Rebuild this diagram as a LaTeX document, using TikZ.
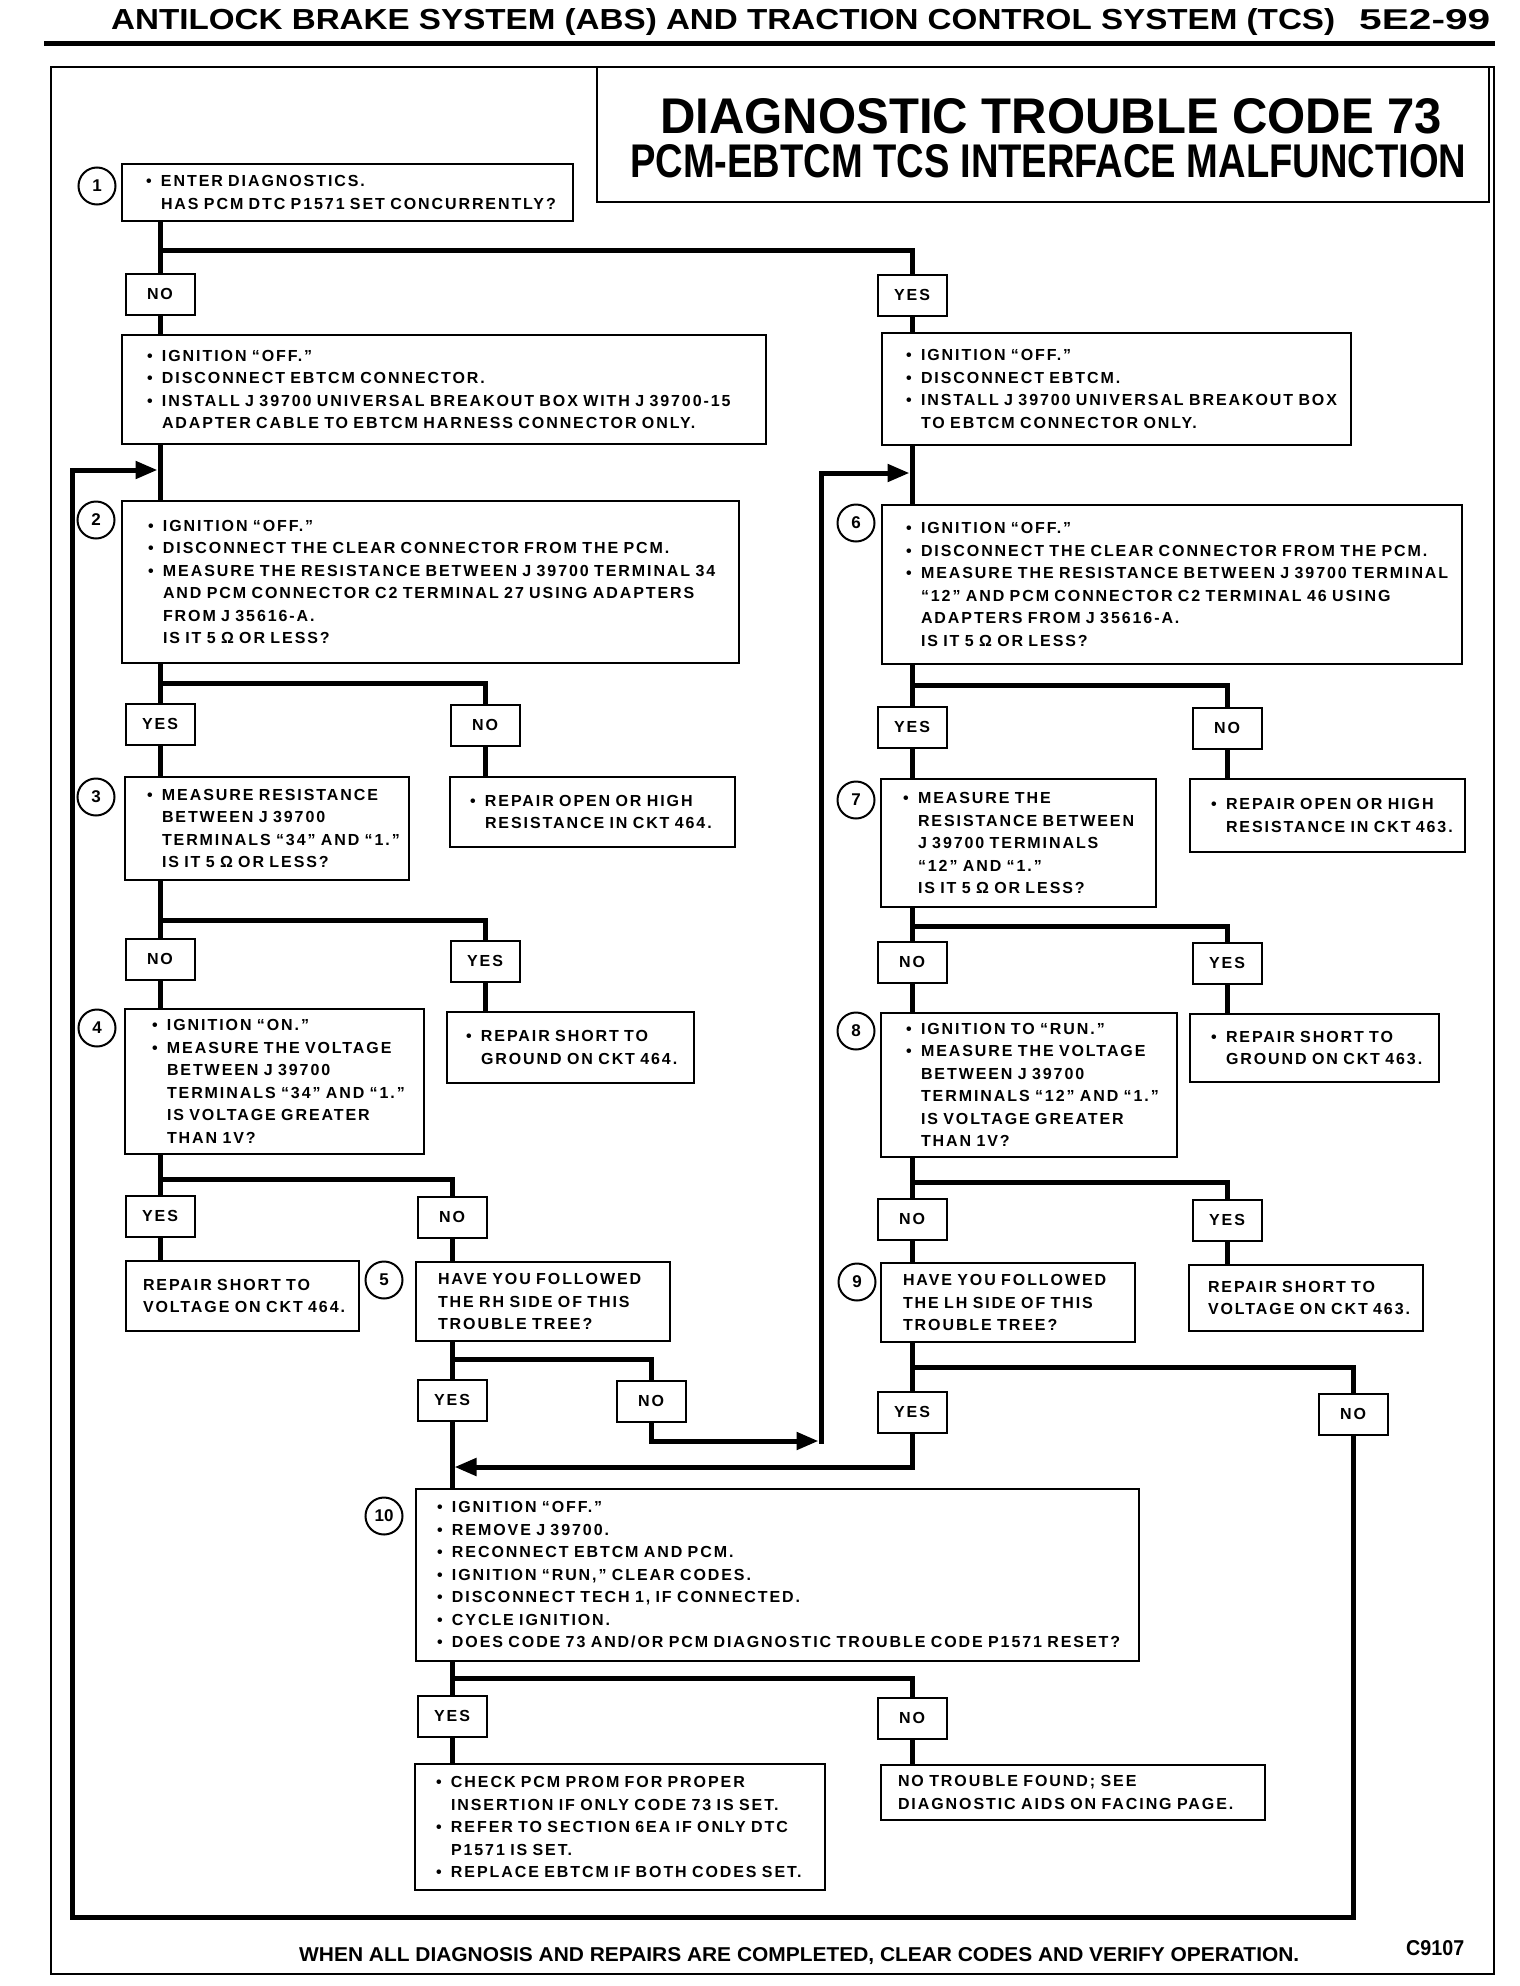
\documentclass[tikz,border=0pt]{standalone}
\usepackage{fontspec}
\setmainfont{Liberation Sans}[LetterSpace=12]
\newfontfamily\hdfont{Liberation Sans}
\usetikzlibrary{arrows.meta,backgrounds}
\newcommand\mybul[1]{\mbox{\makebox[15pt][l]{\textbullet}#1}}
\newcommand\myind[1]{\mbox{\hspace*{15pt}#1}}
\newcommand\mypl[1]{\mbox{#1}}
\newcommand\bx[7]{%
  \pgfmathsetmacro\bxw{#4-(#2)}%
  \pgfmathsetmacro\bxh{#5-(#3)}%
  \pgfmathsetmacro\bxt{#4-(#2)-2*(#6)}%
  \pgfmathsetmacro\bxcx{(#2+#4)/2}%
  \pgfmathsetmacro\bxcy{(#3+#5)/2}%
  \node[box, minimum width=\bxw pt, minimum height=\bxh pt, inner xsep=#6pt, text width=\bxt pt] (#1) at (\bxcx,\bxcy) {#7};}
\begin{document}
\begin{tikzpicture}[x=1pt,y=-1pt,
  box/.style={draw, line width=2pt, fill=white, inner ysep=0pt, align=left, font=\fontsize{16}{22.5}\selectfont\bfseries},
  lab/.style={draw, line width=2pt, fill=white, minimum width=69pt, minimum height=41pt, inner sep=0pt, font=\fontsize{16}{18}\selectfont\bfseries},
  num/.style={draw, circle, line width=2pt, minimum size=37pt, inner sep=0pt, font=\hdfont\fontsize{17}{17}\selectfont\bfseries},
  conn/.style={line width=5pt},
  arr/.style={-{Triangle[length=22pt,width=17pt]}, shorten >=2.5pt},
  ttl/.style={anchor=base west, inner sep=0pt}
]
\useasboundingbox (0,0) rectangle (1520,1986);

% header
\node[ttl] (hdr) at (111,29) {\resizebox{1224pt}{21pt}{\hdfont\bfseries ANTILOCK BRAKE SYSTEM (ABS) AND TRACTION CONTROL SYSTEM (TCS)}};
\node[ttl] (pg) at (1359,29) {\resizebox{131pt}{20pt}{\hdfont\bfseries 5E2-99}};
\draw[line width=5pt] (44,43) -- (1495,43);

% frame and title
\draw[line width=2pt] (51,67) rectangle (1494,1974);
\draw[line width=2.5pt] (597,67) rectangle (1489,202);
\node[ttl] (t1) at (660,133) {\resizebox{782pt}{35pt}{\hdfont\bfseries DIAGNOSTIC TROUBLE CODE 73}};
\node[ttl] (t2) at (630,177) {\resizebox{836pt}{33pt}{\hdfont\bfseries PCM-EBTCM TCS INTERFACE MALFUNCTION}};

% footer
\node[ttl] (ft) at (299,1961) {\resizebox{1000pt}{14pt}{\hdfont\bfseries WHEN ALL DIAGNOSIS AND REPAIRS ARE COMPLETED, CLEAR CODES AND VERIFY OPERATION.}};
\node[ttl] (fc) at (1406,1955) {\resizebox{58pt}{15pt}{\hdfont\bfseries C9107}};

% step boxes
\bx{b1}{122}{164}{573}{221}{24}{\mybul{ENTER DIAGNOSTICS.}\\\myind{HAS PCM DTC P1571 SET CONCURRENTLY?}}
\bx{bA}{122}{335}{766}{444}{25}{\mybul{IGNITION ``OFF.''}\\\mybul{DISCONNECT EBTCM CONNECTOR.}\\\mybul{INSTALL J 39700 UNIVERSAL BREAKOUT BOX WITH J 39700-15}\\\myind{ADAPTER CABLE TO EBTCM HARNESS CONNECTOR ONLY.}}
\bx{bB}{882}{333}{1351}{445}{24}{\mybul{IGNITION ``OFF.''}\\\mybul{DISCONNECT EBTCM.}\\\mybul{INSTALL J 39700 UNIVERSAL BREAKOUT BOX}\\\myind{TO EBTCM CONNECTOR ONLY.}}
\bx{b2}{122}{501}{739}{663}{26}{\mybul{IGNITION ``OFF.''}\\\mybul{DISCONNECT THE CLEAR CONNECTOR FROM THE PCM.}\\\mybul{MEASURE THE RESISTANCE BETWEEN J 39700 TERMINAL 34}\\\myind{AND PCM CONNECTOR C2 TERMINAL 27 USING ADAPTERS}\\\myind{FROM J 35616-A.}\\\myind{IS IT 5 Ω OR LESS?}}
\bx{b6}{882}{505}{1462}{664}{24}{\mybul{IGNITION ``OFF.''}\\\mybul{DISCONNECT THE CLEAR CONNECTOR FROM THE PCM.}\\\mybul{MEASURE THE RESISTANCE BETWEEN J 39700 TERMINAL}\\\myind{``12'' AND PCM CONNECTOR C2 TERMINAL 46 USING}\\\myind{ADAPTERS FROM J 35616-A.}\\\myind{IS IT 5 Ω OR LESS?}}
\bx{b3}{125}{777}{409}{880}{22}{\mybul{MEASURE RESISTANCE}\\\myind{BETWEEN J 39700}\\\myind{TERMINALS ``34'' AND ``1.''}\\\myind{IS IT 5 Ω OR LESS?}}
\bx{r3}{450}{777}{735}{847}{20}{\mybul{REPAIR OPEN OR HIGH}\\\myind{RESISTANCE IN CKT 464.}}
\bx{b4}{125}{1009}{424}{1154}{27}{\mybul{IGNITION ``ON.''}\\\mybul{MEASURE THE VOLTAGE}\\\myind{BETWEEN J 39700}\\\myind{TERMINALS ``34'' AND ``1.''}\\\myind{IS VOLTAGE GREATER}\\\myind{THAN 1V?}}
\bx{r4}{447}{1012}{694}{1083}{19}{\mybul{REPAIR SHORT TO}\\\myind{GROUND ON CKT 464.}}
\bx{r4v}{126}{1261}{359}{1331}{17}{\mypl{REPAIR SHORT TO}\\\mypl{VOLTAGE ON CKT 464.}}
\bx{b5}{416}{1262}{670}{1341}{22}{\mypl{HAVE YOU FOLLOWED}\\\mypl{THE RH SIDE OF THIS}\\\mypl{TROUBLE TREE?}}
\bx{b7}{881}{779}{1156}{907}{22}{\mybul{MEASURE THE}\\\myind{RESISTANCE BETWEEN}\\\myind{J 39700 TERMINALS}\\\myind{``12'' AND ``1.''}\\\myind{IS IT 5 Ω OR LESS?}}
\bx{r7}{1190}{779}{1465}{852}{21}{\mybul{REPAIR OPEN OR HIGH}\\\myind{RESISTANCE IN CKT 463.}}
\bx{b8}{881}{1013}{1177}{1157}{25}{\mybul{IGNITION TO ``RUN.''}\\\mybul{MEASURE THE VOLTAGE}\\\myind{BETWEEN J 39700}\\\myind{TERMINALS ``12'' AND ``1.''}\\\myind{IS VOLTAGE GREATER}\\\myind{THAN 1V?}}
\bx{r8}{1190}{1014}{1439}{1082}{21}{\mybul{REPAIR SHORT TO}\\\myind{GROUND ON CKT 463.}}
\bx{b9}{881}{1263}{1135}{1342}{22}{\mypl{HAVE YOU FOLLOWED}\\\mypl{THE LH SIDE OF THIS}\\\mypl{TROUBLE TREE?}}
\bx{r9}{1189}{1265}{1423}{1331}{19}{\mypl{REPAIR SHORT TO}\\\mypl{VOLTAGE ON CKT 463.}}
\bx{b10}{416}{1489}{1139}{1661}{21}{\mybul{IGNITION ``OFF.''}\\\mybul{REMOVE J 39700.}\\\mybul{RECONNECT EBTCM AND PCM.}\\\mybul{IGNITION ``RUN,'' CLEAR CODES.}\\\mybul{DISCONNECT TECH 1, IF CONNECTED.}\\\mybul{CYCLE IGNITION.}\\\mybul{DOES CODE 73 AND/OR PCM DIAGNOSTIC TROUBLE CODE P1571 RESET?}}
\bx{fy}{415}{1764}{825}{1890}{21}{\mybul{CHECK PCM PROM FOR PROPER}\\\myind{INSERTION IF ONLY CODE 73 IS SET.}\\\mybul{REFER TO SECTION 6EA IF ONLY DTC}\\\myind{P1571 IS SET.}\\\mybul{REPLACE EBTCM IF BOTH CODES SET.}}
\bx{ntf}{881}{1765}{1265}{1820}{17}{\mypl{NO TROUBLE FOUND; SEE}\\\mypl{DIAGNOSTIC AIDS ON FACING PAGE.}}

% step numbers
\node[num] (c1) at (97,186) {1};
\node[num] (c2) at (96,520) {2};
\node[num] (c3) at (96,797) {3};
\node[num] (c4) at (97,1028) {4};
\node[num] (c5) at (384,1280) {5};
\node[num] (c6) at (856,523) {6};
\node[num] (c7) at (856,800) {7};
\node[num] (c8) at (856,1031) {8};
\node[num] (c9) at (857,1282) {9};
\node[num] (c10) at (384,1516) {10};

% yes / no labels
\node[lab] (n1) at (160,294) {NO};
\node[lab] (y1) at (912,295) {YES};
\node[lab] (y2) at (160,724) {YES};
\node[lab] (n2) at (485,725) {NO};
\node[lab] (n3) at (160,959) {NO};
\node[lab] (y3) at (485,961) {YES};
\node[lab] (y4) at (160,1216) {YES};
\node[lab] (n4) at (452,1217) {NO};
\node[lab] (y5) at (452,1400) {YES};
\node[lab] (n5) at (651,1401) {NO};
\node[lab] (y6) at (912,727) {YES};
\node[lab] (n6) at (1227,728) {NO};
\node[lab] (n7) at (912,962) {NO};
\node[lab] (y7) at (1227,963) {YES};
\node[lab] (n8) at (912,1219) {NO};
\node[lab] (y8) at (1227,1220) {YES};
\node[lab] (y9) at (912,1412) {YES};
\node[lab] (n9) at (1353,1414) {NO};
\node[lab] (y10) at (452,1716) {YES};
\node[lab] (n10) at (912,1718) {NO};

% junctions
\coordinate (j1) at (160,250);
\coordinate (j2) at (160,683);
\coordinate (j3) at (160,920);
\coordinate (j4) at (160,1179);
\coordinate (j5) at (452,1359);
\coordinate (j6) at (912,685);
\coordinate (j7) at (912,926);
\coordinate (j8) at (912,1182);
\coordinate (j9) at (912,1367);
\coordinate (j10) at (452,1678);
\coordinate (rA) at (821,1441);
\coordinate (rA0) at (821,1443.5);
\coordinate (rB) at (821,473);
\coordinate (m10) at (452,1467);
\coordinate (lA) at (72,1917);
\coordinate (lB) at (72,470);

\begin{scope}[on background layer]
\fill[white] (0,0) rectangle (1520,1986);
% step 1
\draw[conn] (b1.south -| n1) -- (n1.north);
\draw[conn] (j1) -| (y1.north);
\draw[conn] (n1.south) -- (bA.north -| n1);
\draw[conn] (y1.south) -- (bB.north -| y1);
\draw[conn] (bA.south -| n1) -- (b2.north -| n1);
\draw[conn] (bB.south -| y1) -- (b6.north -| y1);
% step 2
\draw[conn] (b2.south -| y2) -- (y2.north);
\draw[conn] (j2) -| (n2.north);
\draw[conn] (y2.south) -- (b3.north -| y2);
\draw[conn] (n2.south) -- (r3.north -| n2);
% step 3
\draw[conn] (b3.south -| n3) -- (n3.north);
\draw[conn] (j3) -| (y3.north);
\draw[conn] (n3.south) -- (b4.north -| n3);
\draw[conn] (y3.south) -- (r4.north -| y3);
% step 4
\draw[conn] (b4.south -| y4) -- (y4.north);
\draw[conn] (j4) -| (n4.north);
\draw[conn] (y4.south) -- (r4v.north -| y4);
\draw[conn] (n4.south) -- (b5.north -| n4);
% step 5
\draw[conn] (b5.south -| y5) -- (y5.north);
\draw[conn] (j5) -| (n5.north);
\draw[conn] (y5.south) -- (b10.north -| y5);
\draw[conn,arr] (n5.south) |- (rA);
\draw[conn,arr] (rA0) -- (rB) -- (rB -| y1);
% step 6
\draw[conn] (b6.south -| y6) -- (y6.north);
\draw[conn] (j6) -| (n6.north);
\draw[conn] (y6.south) -- (b7.north -| y6);
\draw[conn] (n6.south) -- (r7.north -| n6);
% step 7
\draw[conn] (b7.south -| n7) -- (n7.north);
\draw[conn] (j7) -| (y7.north);
\draw[conn] (n7.south) -- (b8.north -| n7);
\draw[conn] (y7.south) -- (r8.north -| y7);
% step 8
\draw[conn] (b8.south -| n8) -- (n8.north);
\draw[conn] (j8) -| (y8.north);
\draw[conn] (n8.south) -- (b9.north -| n8);
\draw[conn] (y8.south) -- (r9.north -| y8);
% step 9
\draw[conn] (b9.south -| y9) -- (y9.north);
\draw[conn] (j9) -| (n9.north);
\draw[conn,arr] (y9.south) |- (m10);
\draw[conn,arr] (n9.south) |- (lA) -- (lB) -- (lB -| n1);
% step 10
\draw[conn] (b10.south -| y10) -- (y10.north);
\draw[conn] (j10) -| (n10.north);
\draw[conn] (y10.south) -- (fy.north -| y10);
\draw[conn] (n10.south) -- (ntf.north -| n10);
\end{scope}
\end{tikzpicture}
\end{document}
